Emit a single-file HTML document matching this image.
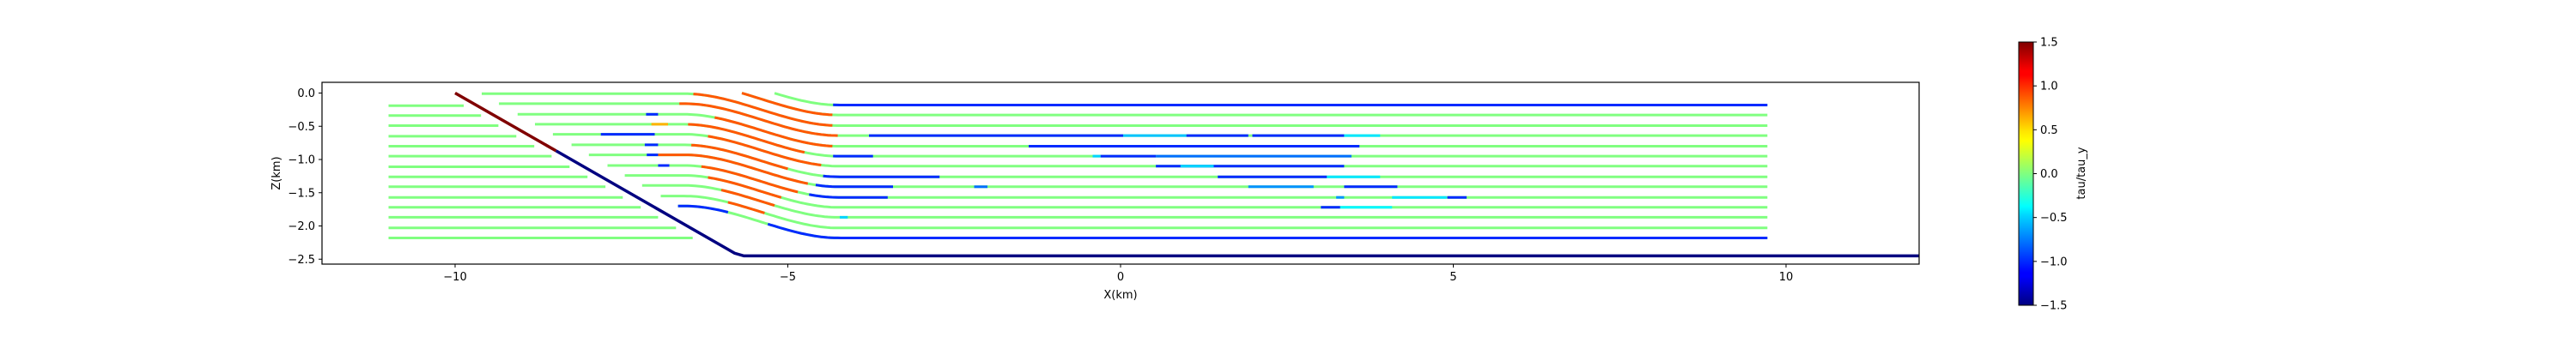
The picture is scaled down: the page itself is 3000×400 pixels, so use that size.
<!DOCTYPE html>
<html><head><meta charset="utf-8"><style>
html,body{margin:0;padding:0;background:#fff;}
svg{display:block;font-family:"DejaVu Sans","Liberation Sans",sans-serif;}
</style></head><body>
<svg id="chart" width="3000" height="400" viewBox="0 0 3000 400" xmlns="http://www.w3.org/2000/svg">
<defs>
<linearGradient id="jet" x1="0" y1="1" x2="0" y2="0">
<stop offset="0" stop-color="#000080"/><stop offset="0.11" stop-color="#0000ff"/><stop offset="0.125" stop-color="#0000ff"/>
<stop offset="0.34" stop-color="#00d4ff"/><stop offset="0.375" stop-color="#0ff"/><stop offset="0.5" stop-color="#80ff80"/>
<stop offset="0.625" stop-color="#ff0"/><stop offset="0.66" stop-color="#ffe600"/><stop offset="0.875" stop-color="#f00"/>
<stop offset="0.89" stop-color="#f00"/><stop offset="1" stop-color="#800000"/>
</linearGradient>
<clipPath id="plotclip"><rect x="375" y="96" width="1860" height="212"/></clipPath>
</defs>
<g id="marks" clip-path="url(#plotclip)"></g>
<rect x="375" y="96" width="1860" height="212" fill="none" stroke="#000" stroke-width="1.2"/>
<g id="axes"></g>
<text x="1305" y="348" font-size="13" text-anchor="middle">X(km)</text>
<text x="0" y="0" font-size="13" text-anchor="middle" transform="translate(326,202) rotate(-90)">Z(km)</text>
<rect x="2351" y="49" width="17" height="307" fill="url(#jet)" stroke="#000" stroke-width="1"/>
<g id="cbaxis"></g>
<text x="0" y="0" font-size="13" text-anchor="middle" transform="translate(2428,202) rotate(-90)">tau/tau_y</text>
</svg>
<script>
// ---- data ----
const xTicks = [-10, -5, 0, 5, 10];
const yTicks = [0.0, -0.5, -1.0, -1.5, -2.0, -2.5];
const cbTicks = [1.5, 1.0, 0.5, 0.0, -0.5, -1.0, -1.5];
// footwall (left) streamlines
const leftZ = [-0.19,-0.34,-0.49,-0.65,-0.80,-0.95,-1.11,-1.26,-1.41,-1.57,-1.72,-1.87,-2.03,-2.18];
const leftEnd = [-9.87,-9.61,-9.35,-9.08,-8.81,-8.55,-8.28,-8.01,-7.74,-7.48,-7.21,-6.95,-6.68,-6.43];
const leftStart = -11.0;
// hanging wall streamlines: final depth per row, drop across flexure
const rowZ = [-0.18,-0.33,-0.49,-0.64,-0.80,-0.95,-1.10,-1.26,-1.41,-1.57,-1.72,-1.87,-2.03,-2.18];
const flexDrop = 0.48, flexCenter = -5.4, flexHalf = 1.15;
const rightEnd = 9.72;
// red (positive stress) ranges per row
const redStart = [99,-5.91,-6.42,-6.63,-6.1,-6.5,-6.2,-6.45,-6.95,-6.3,-6.2,-6.0,-5.9,99];
const redEnd   = [99,-4.33,-4.33,-4.25,-4.33,-4.75,-4.5,-5.0,-4.7,-4.85,-5.1,-5.2,-5.35,99];
// other coloured segments: [row, x0, x1, value]
const segRow = [0,3,3,3,3,3,4,5,5,5,5,6,6,7,7,7,8,8,8,8,9,9,9,9,10,10,11,13,13,4,5,6,7,8,9];
const segX0  = [-4.32,-3.78,0.04,0.99,1.98,3.36,-1.38,-4.32,-0.42,-0.3,0.53,0.53,0.9,-4.47,1.46,3.1,-4.58,-2.2,1.92,3.36,-4.68,3.24,4.08,4.91,3.01,3.3,-4.22,-5.3,-7.4,-7.13,-7.05,-7.81,-7.15,-7.12,-6.95];
const segX1  = [9.72,0.04,0.99,1.92,3.36,3.9,3.59,-3.72,-0.3,0.53,3.47,3.36,1.4,-2.72,3.1,3.9,-3.42,-2.0,2.9,4.16,-3.5,3.36,4.9,5.2,3.3,4.08,-4.1,9.72,-5.9,-6.95,-6.8,-7.0,-6.95,-6.95,-6.78];
const segVal = [-1.0,-1.0,-0.55,-1.0,-1.0,-0.45,-1.0,-1.0,-0.5,-1.0,-0.8,-1.0,-0.5,-1.0,-1.0,-0.45,-1.0,-0.8,-0.7,-1.0,-1.0,-0.7,-0.45,-1.0,-1.0,-0.4,-0.5,-1.0,-1.0,-1.0,0.6,-1.0,-1.0,-1.0,-1.0];
const redVal = 0.87;
// fault
const faultTopX = -10.0, faultTopZ = 0.0, faultKinkX = -5.92, faultKinkZ = -2.34, faultBaseX = -5.66, faultBaseZ = -2.45;
const faultRedZ = -0.87;
const faultEndX = 12.0;

// ---- scales ----
const X0 = 1305, KX = 77.5, Y0 = 108.5, KY = 77.5;
const sx = x => X0 + KX * x;
const sy = z => Y0 - KY * z;
function jet(v){
  let t = (v + 1.5) / 3; t = Math.max(0, Math.min(1, t));
  const c = a => Math.round(255 * Math.max(0, Math.min(1, a)));
  return `rgb(${c(1.5-Math.abs(4*t-3))},${c(1.5-Math.abs(4*t-2))},${c(1.5-Math.abs(4*t-1))})`;
}
const NS = 'http://www.w3.org/2000/svg';
const marks = document.getElementById('marks');
function poly(pts, color, w, name){
  const p = document.createElementNS(NS, 'polyline');
  p.setAttribute('points', pts.map(q => sx(q[0]).toFixed(1) + ',' + sy(q[1]).toFixed(1)).join(' '));
  p.setAttribute('fill', 'none'); p.setAttribute('stroke', color); p.setAttribute('stroke-width', w);
  
  
  marks.appendChild(p);
}
function faultX(z){ return faultTopX + (faultTopZ - z) * (faultKinkX - faultTopX) / (faultTopZ - faultKinkZ); }
function smooth(u){ u = Math.max(0, Math.min(1, u)); return u*u*(3-2*u); }
function hwZ(i, x){ return rowZ[i] + flexDrop * (1 - smooth((x - flexCenter + flexHalf) / (2*flexHalf))); }

// footwall lines
leftZ.forEach((z, i) => {
  poly([[leftStart, z], [leftEnd[i], z]], jet(0), 3, 'footwall-streamline-' + i);
});
// hanging wall lines
function drawRange(i, a, b, v, name){
  if (b <= a) return;
  const pts = []; const n = Math.max(2, Math.ceil((b - a) / 0.05));
  for (let k = 0; k <= n; k++){ const x = a + (b - a) * k / n; pts.push([x, hwZ(i, x)]); }
  poly(pts, jet(v), 3, name);
}
rowZ.forEach((z, i) => {
  let start = -12;
  for (let x = -12; x < 0; x += 0.01){ const zz = hwZ(i, x); if (zz <= 0.0 && x >= faultX(zz) + 0.38 && zz >= faultBaseZ + 0.1){ start = x; break; } }
  drawRange(i, start, rightEnd, 0, 'hangingwall-streamline-' + i);
  if (redStart[i] < 50) drawRange(i, Math.max(start, redStart[i]), redEnd[i], redVal, 'positive-stress-segment-' + i);
  segRow.forEach((r, k) => { if (r === i) drawRange(i, Math.max(start, segX0[k]), segX1[k], segVal[k], 'stress-segment-' + k); });
});
// fault
poly([[faultTopX, faultTopZ], [faultX(faultRedZ), faultRedZ]], jet(1.5), 3.5, 'fault-upper');
poly([[faultX(faultRedZ), faultRedZ], [faultKinkX, faultKinkZ], [faultKinkX + 0.12, faultKinkZ - 0.07], [faultBaseX, faultBaseZ], [faultEndX, faultBaseZ]], jet(-1.5), 3.5, 'fault-lower');

// axes ticks
const axes = document.getElementById('axes');
function el(tag, attrs, text){
  const e = document.createElementNS(NS, tag);
  for (const k in attrs) e.setAttribute(k, attrs[k]);
  if (text !== undefined) e.textContent = text;
  return e;
}
const fmtInt = v => (v < 0 ? '\u2212' : '') + Math.abs(v);
const fmtDec = v => (v < 0 ? '\u2212' : '') + Math.abs(v).toFixed(1);
xTicks.forEach(v => {
  const t = el('line', {x1: sx(v), x2: sx(v), y1: 308, y2: 312, stroke: '#000', 'stroke-width': 1});
  
  
  axes.appendChild(t);
  const l = el('text', {x: sx(v), y: 327, 'font-size': 13, 'text-anchor': 'middle'}, fmtInt(v));
  
  
  axes.appendChild(l);
});
yTicks.forEach(v => {
  const t = el('line', {x1: 371, x2: 375, y1: sy(v), y2: sy(v), stroke: '#000', 'stroke-width': 1});
  
  
  axes.appendChild(t);
  const l = el('text', {x: 367, y: sy(v) + 4.5, 'font-size': 13, 'text-anchor': 'end'}, fmtDec(v));
  
  
  axes.appendChild(l);
});
const cb = document.getElementById('cbaxis');
const cby = v => 356 - (v + 1.5) / 3 * 307;
cbTicks.forEach(v => {
  const t = el('line', {x1: 2368, x2: 2372, y1: cby(v), y2: cby(v), stroke: '#000', 'stroke-width': 1});
  
  
  cb.appendChild(t);
  const l = el('text', {x: 2376, y: cby(v) + 4.5, 'font-size': 13}, fmtDec(v));
  
  
  cb.appendChild(l);
});
</script>
</body></html>
